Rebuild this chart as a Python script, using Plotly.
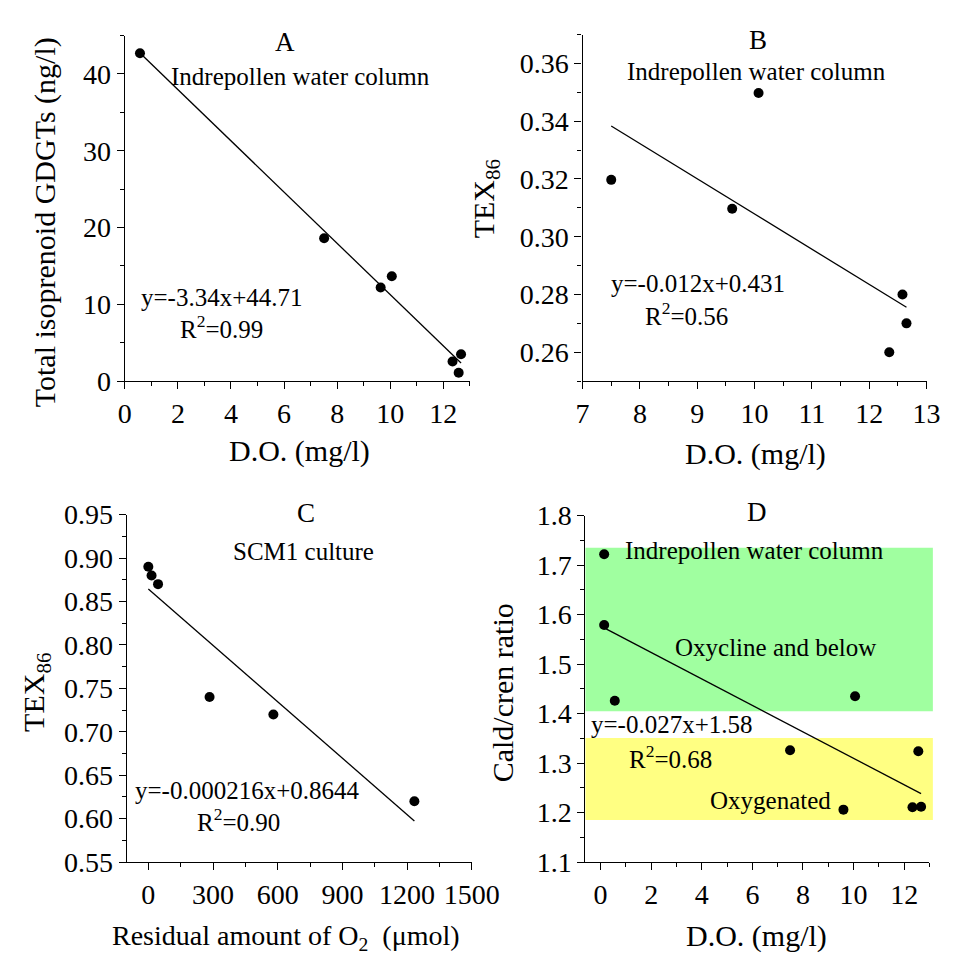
import numpy as np
import plotly.graph_objects as go

# ---------------- data ----------------
# Panel A: total isoprenoid GDGTs vs D.O.
a_do = [0.57, 7.51, 9.64, 10.06, 12.35, 12.58, 12.67]
a_gdgt = [42.7, 18.6, 12.2, 13.65, 2.56, 1.09, 3.49]
# Panel B: TEX86 vs D.O.
b_do = [7.5, 9.61, 10.07, 12.35, 12.58, 12.65]
b_tex = [0.3197, 0.3097, 0.3498, 0.26, 0.28, 0.27]
# Panel C: TEX86 vs residual O2 (SCM1 culture)
c_o2 = [0, 15, 45, 284, 580, 1234]
c_tex = [0.89, 0.88, 0.87, 0.74, 0.72, 0.62]
# Panel D: Cald/cren ratio vs D.O.
d_do = [0.14, 0.14, 0.56, 7.49, 9.6, 10.06, 12.33, 12.56, 12.67]
d_ratio = [1.722, 1.579, 1.426, 1.326, 1.206, 1.435, 1.211, 1.324, 1.212]
# Panel D shaded zones (y ranges)
zone_oxycline = [1.405, 1.735]
zone_oxygenated = [1.185, 1.351]

# equation labels
eq_a = ["y=-3.34x+44.71", "R<sup>2</sup>=0.99"]
eq_b = ["y=-0.012x+0.431", "R<sup>2</sup>=0.56"]
eq_c = ["y=-0.000216x+0.8644", "R<sup>2</sup>=0.90"]
eq_d = ["y=-0.027x+1.58", "R<sup>2</sup>=0.68"]

FONT = "Liberation Serif, Times New Roman, serif"
W, H = 961, 964   # page body margin of 8 px
OFF = 8

fig = go.Figure()


def add_panel(xs, ys, xa, ya):
    fig.add_trace(go.Scatter(x=xs, y=ys, mode="markers", xaxis=xa, yaxis=ya,
                             marker=dict(color="black", size=10),
                             showlegend=False, hoverinfo="x+y"))
    k, b = np.polyfit(xs, ys, 1)
    lx = np.array([min(xs), max(xs)])
    fig.add_trace(go.Scatter(x=lx, y=k * lx + b, mode="lines", xaxis=xa, yaxis=ya,
                             line=dict(color="black", width=1.3),
                             showlegend=False, hoverinfo="skip"))


add_panel(a_do, a_gdgt, "x", "y")
add_panel(b_do, b_tex, "x2", "y2")
add_panel(c_o2, c_tex, "x3", "y3")
add_panel(d_do, d_ratio, "x4", "y4")


def px(x):
    return (x - OFF) / W


def py(y):
    return 1 - (y - OFF) / H


def axis(dom, rng, dtick, mdtick, anchor, fmt=None):
    d = dict(domain=dom, range=rng, dtick=dtick, tick0=0, anchor=anchor,
             showline=True, linecolor="black", linewidth=1.4,
             ticks="outside", ticklen=7, tickwidth=1.4, tickcolor="black",
             showgrid=False, zeroline=False,
             tickfont=dict(family=FONT, size=28, color="black"),
             minor=dict(ticks="outside", ticklen=4, tickwidth=1.4,
                        tickcolor="black", dtick=mdtick, showgrid=False))
    if fmt:
        d["tickformat"] = fmt
    return d


fig.update_layout(
    width=W, height=H, margin=dict(l=0, r=0, t=0, b=0),
    plot_bgcolor="white", paper_bgcolor="white",
    xaxis=axis([px(122), px(480)], [0, 13], 2, 1, "y"),
    yaxis=axis([py(378), py(21)], [0, 45], 10, 5, "x"),
    xaxis2=axis([px(597), px(954)], [7, 13], 1, 0.5, "y2"),
    yaxis2=axis([py(378), py(20)], [0.25, 0.37], 0.02, 0.01, "x2", ".2f"),
    xaxis3=axis([px(124), px(482)], [-100, 1500], 300, 150, "y3"),
    yaxis3=axis([py(875), py(516)], [0.55, 0.95], 0.05, 0.025, "x3", ".2f"),
    xaxis4=axis([px(600), px(957)], [-0.6, 13], 2, 1, "y4"),
    yaxis4=axis([py(875), py(517)], [1.1, 1.8], 0.1, 0.05, "x4", ".1f"),
)

# shaded zones in panel D
fig.add_shape(type="rect", xref="x4 domain", yref="y4", x0=0, x1=1.01,
              y0=zone_oxycline[0], y1=zone_oxycline[1],
              fillcolor="rgb(160,255,160)", line_width=0, layer="below")
fig.add_shape(type="rect", xref="x4 domain", yref="y4", x0=0, x1=1.01,
              y0=zone_oxygenated[0], y1=zone_oxygenated[1],
              fillcolor="rgb(255,255,130)", line_width=0, layer="below")


def txt(x, y, s, size=25, angle=0):
    fig.add_annotation(x=px(x), y=py(y), xref="paper", yref="paper", text=s,
                       showarrow=False, textangle=angle,
                       font=dict(family=FONT, size=size, color="black"),
                       xanchor="center", yanchor="middle")


# panel letters
txt(288, 28, "A", 27)
txt(779, 26, "B", 27)
txt(310, 514, "C", 27)
txt(778, 513, "D", 27)

# panel subtitles / notes
txt(304, 63, "Indrepollen water column")
txt(778, 58, "Indrepollen water column")
txt(307, 554, "SCM1 culture")
txt(775, 553, "Indrepollen water column")
txt(797, 653, "Oxycline and below")
txt(792, 811, "Oxygenated")

# equations
txt(223, 292, eq_a[0]); txt(222, 322, eq_a[1])
txt(717, 277, eq_b[0]); txt(705, 309, eq_b[1])
txt(249, 801, eq_c[0]); txt(240, 831, eq_c[1])
txt(690, 733, eq_d[0]); txt(688, 766, eq_d[1])

# axis titles
txt(303, 450, "D.O. (mg/l)", 30)
txt(776, 453, "D.O. (mg/l)", 30)
txt(289, 953, "Residual amount of O<sub>2</sub>  (μmol)", 28)
txt(778, 951, "D.O. (mg/l)", 30)
txt(40, 214, "Total isoprenoid GDGTs (ng/l)", 30, -90)
txt(497, 190, "TEX<sub>86</sub>", 30, -90)
txt(30, 700, "TEX<sub>86</sub>", 30, -90)
txt(514, 700, "Cald/cren ratio", 30, -90)

fig.write_html("out.html")
